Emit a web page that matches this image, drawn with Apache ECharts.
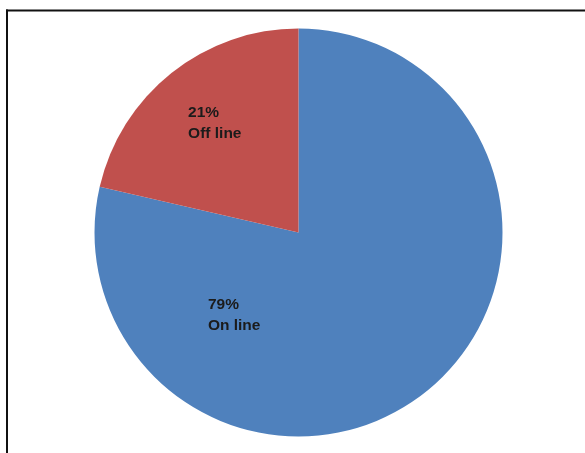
<!DOCTYPE html>
<html>
<head>
<meta charset="utf-8">
<script src="https://cdn.jsdelivr.net/npm/echarts@6/dist/echarts.min.js"></script>
<style>
html,body{margin:0;padding:0;background:#fff;}
#main{width:585px;height:453px;}
</style>
</head>
<body>
<div id="main"></div>
<script>
var categories = ['On line', 'Off line'];
var values = [78.6, 21.4];
var colors = ['#4F81BD', '#C0504D'];
var labelOffsets = [[-121, 1], [-10, -27]];

var chart = echarts.init(document.getElementById('main'), null, {renderer: 'canvas'});
var data = categories.map(function (c, i) {
  return {
    name: c,
    value: values[i],
    itemStyle: {color: colors[i]},
    label: {offset: labelOffsets[i]}
  };
});
chart.setOption({
  animation: false,
  backgroundColor: '#ffffff',
  graphic: [
    {type: 'line', shape: {x1: 6, y1: 10.5, x2: 585, y2: 10.5}, style: {stroke: '#111', lineWidth: 2}},
    {type: 'line', shape: {x1: 7, y1: 9.5, x2: 7, y2: 453}, style: {stroke: '#111', lineWidth: 2}}
  ],
  series: [{
    type: 'pie',
    center: [298.5, 232.5],
    radius: 204,
    startAngle: 90,
    clockwise: true,
    avoidLabelOverlap: false,
    labelLine: {show: false},
    itemStyle: {borderWidth: 0},
    emphasis: {disabled: true},
    label: {
      show: true,
      position: 'inside',
      formatter: function (p) {
        return '{a|' + Math.round(p.percent) + '%}\n{a|' + p.name + '}';
      },
      rich: {
        a: {
          width: 70,
          align: 'left',
          fontFamily: 'Liberation Sans',
          fontWeight: 'bold',
          fontSize: 15.5,
          lineHeight: 21,
          color: '#1b1b1b'
        }
      }
    },
    data: data
  }]
});
</script>
</body>
</html>
